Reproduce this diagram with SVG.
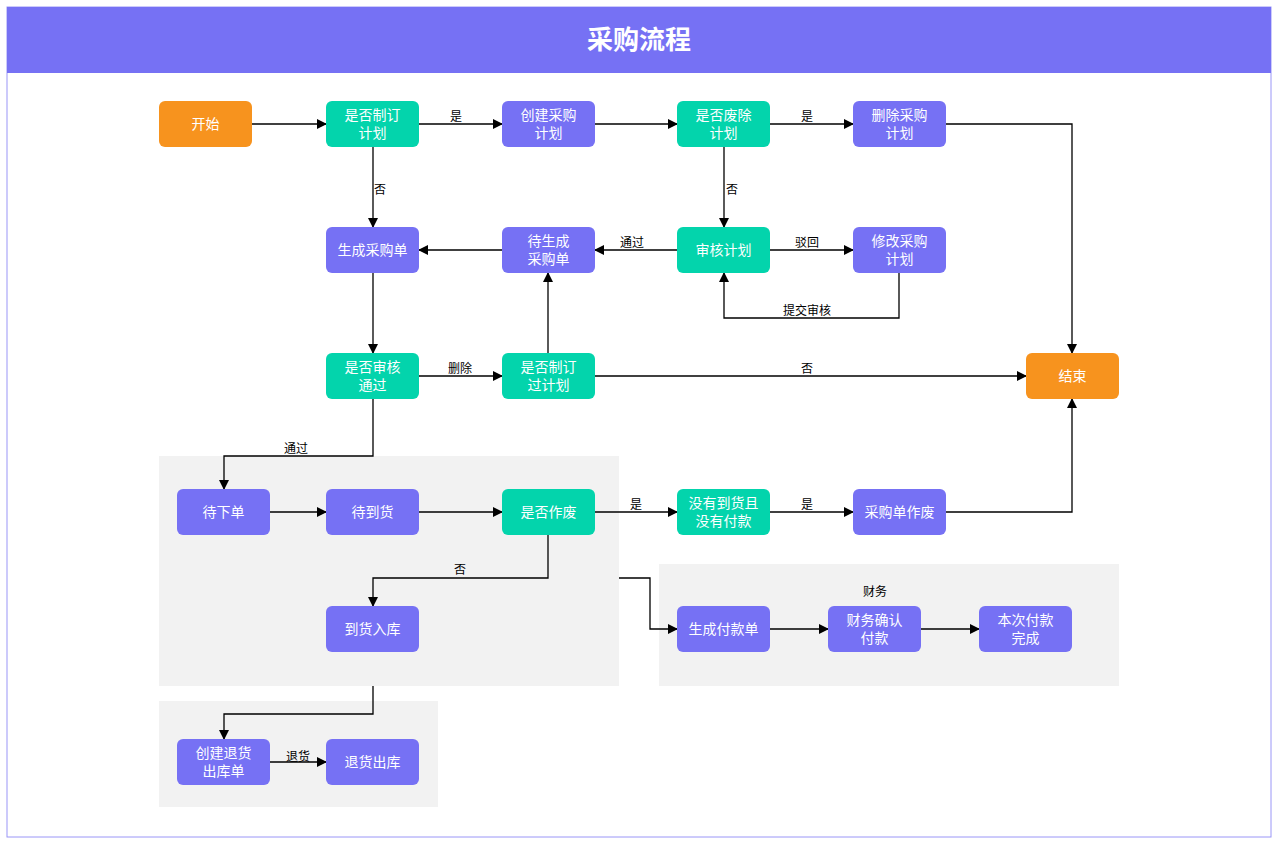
<svg xmlns="http://www.w3.org/2000/svg" width="1280" height="846" viewBox="0 0 1280 846">
<style>
text{font-family:"Noto Sans CJK SC","Noto Sans",sans-serif}
.n text{fill:#fff;font-size:14px;text-anchor:middle}
.p{fill:#7671f4}.g{fill:#03d4ac}.o{fill:#f7931e}
.c path{fill:none;stroke:#000;stroke-width:1.3}
.l{font-size:12px;fill:#000;text-anchor:middle}
</style>
<defs><marker id="a" markerWidth="10" markerHeight="10" refX="9" refY="5" orient="auto" markerUnits="userSpaceOnUse"><path d="M0,0L10,5L0,10z" fill="#000"/></marker></defs>
<rect x="7" y="7" width="1264" height="830" fill="#fff" stroke="#9a96f7"/>
<rect x="7" y="7" width="1264" height="66" fill="#7671f4"/>
<text x="639" y="49" font-size="26" font-weight="bold" fill="#fff" text-anchor="middle">采购流程</text>
<rect x="159" y="456" width="460" height="230" fill="#f2f2f2"/>
<rect x="159" y="701" width="279" height="106" fill="#f2f2f2"/>
<rect x="659" y="564" width="460" height="122" fill="#f2f2f2"/>
<text class="l" x="875" y="596">财务</text>
<g class="c" marker-end="url(#a)">
<path d="M252,124H326" marker-end="url(#a)"/>
<path d="M419,124H502" marker-end="url(#a)"/>
<path d="M595,124H677" marker-end="url(#a)"/>
<path d="M770,124H853" marker-end="url(#a)"/>
<path d="M946,124H1072V353" marker-end="url(#a)"/>
<path d="M724,147V227" marker-end="url(#a)"/>
<path d="M373,147V227" marker-end="url(#a)"/>
<path d="M677,250H595" marker-end="url(#a)"/>
<path d="M502,250H419" marker-end="url(#a)"/>
<path d="M770,250H853" marker-end="url(#a)"/>
<path d="M899,273V318H724V273" marker-end="url(#a)"/>
<path d="M373,273V353" marker-end="url(#a)"/>
<path d="M419,376H502" marker-end="url(#a)"/>
<path d="M548,353V273" marker-end="url(#a)"/>
<path d="M595,376H1026" marker-end="url(#a)"/>
<path d="M373,399V456H224V489" marker-end="url(#a)"/>
<path d="M270,512H326" marker-end="url(#a)"/>
<path d="M419,512H502" marker-end="url(#a)"/>
<path d="M595,512H677" marker-end="url(#a)"/>
<path d="M770,512H853" marker-end="url(#a)"/>
<path d="M946,512H1072V399" marker-end="url(#a)"/>
<path d="M548,535V578H373V606" marker-end="url(#a)"/>
<path d="M619,578H650V629H677" marker-end="url(#a)"/>
<path d="M770,629H828" marker-end="url(#a)"/>
<path d="M921,629H979" marker-end="url(#a)"/>
<path d="M373,686V714H224V739" marker-end="url(#a)"/>
<path d="M270,762H326" marker-end="url(#a)"/>
</g>
<g class="lbl">
<text class="l" x="456" y="121">是</text>
<text class="l" x="807" y="121">是</text>
<text class="l" x="380" y="194">否</text>
<text class="l" x="732" y="194">否</text>
<text class="l" x="632" y="247">通过</text>
<text class="l" x="807" y="247">驳回</text>
<text class="l" x="807" y="315">提交审核</text>
<text class="l" x="460" y="373">删除</text>
<text class="l" x="807" y="373">否</text>
<text class="l" x="296" y="453">通过</text>
<text class="l" x="636" y="509">是</text>
<text class="l" x="807" y="509">是</text>
<text class="l" x="460" y="574">否</text>
<text class="l" x="298" y="761">退货</text>
</g>
<g class="n">
<g id="start"><rect class="o" x="159" y="101" width="93" height="46" rx="6"/><text x="205.5" y="129">开始</text></g>
<g id="n1"><rect class="g" x="326" y="101" width="93" height="46" rx="6"/><text x="372.5" y="120">是否制订</text><text x="372.5" y="138">计划</text></g>
<g id="n2"><rect class="p" x="502" y="101" width="93" height="46" rx="6"/><text x="548.5" y="120">创建采购</text><text x="548.5" y="138">计划</text></g>
<g id="n3"><rect class="g" x="677" y="101" width="93" height="46" rx="6"/><text x="723.5" y="120">是否废除</text><text x="723.5" y="138">计划</text></g>
<g id="n4"><rect class="p" x="853" y="101" width="93" height="46" rx="6"/><text x="899.5" y="120">删除采购</text><text x="899.5" y="138">计划</text></g>
<g id="n5"><rect class="p" x="326" y="227" width="93" height="46" rx="6"/><text x="372.5" y="255">生成采购单</text></g>
<g id="n6"><rect class="p" x="502" y="227" width="93" height="46" rx="6"/><text x="548.5" y="246">待生成</text><text x="548.5" y="264">采购单</text></g>
<g id="n7"><rect class="g" x="677" y="227" width="93" height="46" rx="6"/><text x="723.5" y="255">审核计划</text></g>
<g id="n8"><rect class="p" x="853" y="227" width="93" height="46" rx="6"/><text x="899.5" y="246">修改采购</text><text x="899.5" y="264">计划</text></g>
<g id="n9"><rect class="g" x="326" y="353" width="93" height="46" rx="6"/><text x="372.5" y="372">是否审核</text><text x="372.5" y="390">通过</text></g>
<g id="n10"><rect class="g" x="502" y="353" width="93" height="46" rx="6"/><text x="548.5" y="372">是否制订</text><text x="548.5" y="390">过计划</text></g>
<g id="end"><rect class="o" x="1026" y="353" width="93" height="46" rx="6"/><text x="1072.5" y="381">结束</text></g>
<g id="n11"><rect class="p" x="177" y="489" width="93" height="46" rx="6"/><text x="223.5" y="517">待下单</text></g>
<g id="n12"><rect class="p" x="326" y="489" width="93" height="46" rx="6"/><text x="372.5" y="517">待到货</text></g>
<g id="n13"><rect class="g" x="502" y="489" width="93" height="46" rx="6"/><text x="548.5" y="517">是否作废</text></g>
<g id="n14"><rect class="g" x="677" y="489" width="93" height="46" rx="6"/><text x="723.5" y="508">没有到货且</text><text x="723.5" y="526">没有付款</text></g>
<g id="n15"><rect class="p" x="853" y="489" width="93" height="46" rx="6"/><text x="899.5" y="517">采购单作废</text></g>
<g id="n16"><rect class="p" x="326" y="606" width="93" height="46" rx="6"/><text x="372.5" y="634">到货入库</text></g>
<g id="n17"><rect class="p" x="677" y="606" width="93" height="46" rx="6"/><text x="723.5" y="634">生成付款单</text></g>
<g id="n18"><rect class="p" x="828" y="606" width="93" height="46" rx="6"/><text x="874.5" y="625">财务确认</text><text x="874.5" y="643">付款</text></g>
<g id="n19"><rect class="p" x="979" y="606" width="93" height="46" rx="6"/><text x="1025.5" y="625">本次付款</text><text x="1025.5" y="643">完成</text></g>
<g id="n20"><rect class="p" x="177" y="739" width="93" height="46" rx="6"/><text x="223.5" y="758">创建退货</text><text x="223.5" y="776">出库单</text></g>
<g id="n21"><rect class="p" x="326" y="739" width="93" height="46" rx="6"/><text x="372.5" y="767">退货出库</text></g>
</g>
</svg>
